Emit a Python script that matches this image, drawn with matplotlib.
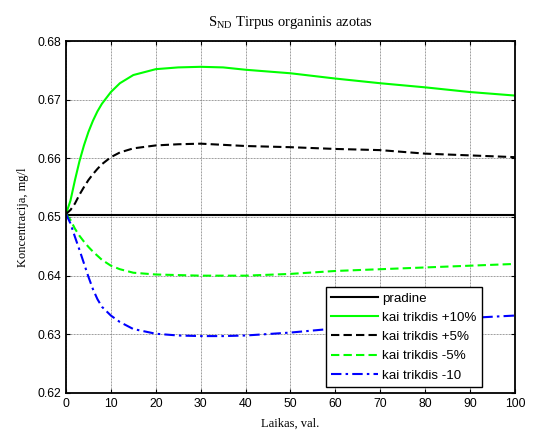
import matplotlib
matplotlib.use("Agg")
import matplotlib.pyplot as plt

plt.rcParams["mathtext.fontset"] = "custom"
plt.rcParams["mathtext.rm"] = "Liberation Serif"

# time, hours
laikas = [0, 1, 2, 3, 4, 5, 6, 7, 8, 10, 12, 15, 20, 25, 30, 35, 40, 50, 60, 70, 80, 90, 100]

pradine = [0.6503] * len(laikas)
plius10 = [0.6505, 0.6528, 0.6563, 0.6595, 0.6622, 0.6645, 0.6664, 0.6680, 0.6693, 0.6713,
           0.6728, 0.6742, 0.6752, 0.6755, 0.6756, 0.6755, 0.6751, 0.6745, 0.6736, 0.6728,
           0.6721, 0.6713, 0.6707]
plius5 = [0.6505, 0.6512, 0.6523, 0.6538, 0.6551, 0.6563, 0.6573, 0.6582, 0.6590, 0.6602,
          0.6610, 0.6617, 0.6622, 0.6624, 0.6625, 0.6623, 0.6621, 0.6619, 0.6616, 0.6614,
          0.6608, 0.6605, 0.6602]
minus5 = [0.6505, 0.6495, 0.6480, 0.6468, 0.6458, 0.6449, 0.6441, 0.6434, 0.6427, 0.6417,
          0.6411, 0.6405, 0.6402, 0.6401, 0.6400, 0.6400, 0.6400, 0.6403, 0.6408, 0.6411,
          0.6414, 0.6417, 0.6420]
minus10 = [0.6505, 0.6489, 0.6466, 0.6444, 0.6421, 0.6398, 0.6377, 0.6360, 0.6347, 0.6332,
           0.6321, 0.6309, 0.6301, 0.6298, 0.6297, 0.6297, 0.6298, 0.6303, 0.6310, 0.6318,
           0.6323, 0.6328, 0.6332]

labels = ["pradine", "kai trikdis +10%", "kai trikdis +5%", "kai trikdis -5%", "kai trikdis -10"]
xticks = list(range(0, 101, 10))
yticks = [0.62, 0.63, 0.64, 0.65, 0.66, 0.67, 0.68]

sans = "Liberation Sans"
serif = "Liberation Serif"

fig = plt.figure(figsize=(5.33, 4.33), dpi=100)
ax = fig.add_axes([0.1238, 0.0924, 0.8424, 0.8129])

ax.plot(laikas, pradine, color="black", lw=1.5, label=labels[0])
ax.plot(laikas, plius10, color="#00ff00", lw=1.5, label=labels[1])
ax.plot(laikas, plius5, color="black", lw=1.5, ls=(0, (4, 2)), label=labels[2])
ax.plot(laikas, minus5, color="#00ff00", lw=1.5, ls=(0, (4, 2)), label=labels[3])
ax.plot(laikas, minus10, color="blue", lw=1.5, ls=(0, (5, 2, 1.2, 2)), label=labels[4])

ax.set_xlim(0, 100)
ax.set_ylim(0.62, 0.68)
ax.set_xticks(xticks)
ax.set_yticks(yticks)
ax.set_yticklabels([f"{v:.2f}" for v in yticks])
ax.grid(True, color="#7a7a7a", lw=0.6, ls=(0, (1, 0.8)))
ax.tick_params(direction="in", top=True, right=True, length=3, width=0.8, labelsize=8.8)
for lab in ax.get_xticklabels() + ax.get_yticklabels():
    lab.set_fontfamily(sans)
for sp in ax.spines.values():
    sp.set_linewidth(1.3)

ax.set_title(r"S$_{\mathrm{ND}}$ Tirpus organinis azotas", fontfamily=serif, fontsize=10.5, pad=11)
ax.set_xlabel("Laikas, val.", fontfamily=serif, fontsize=9, labelpad=6)
ax.set_ylabel("Koncentracija, mg/l", fontfamily=serif, fontsize=9, labelpad=6)

leg = ax.legend(loc="lower right", bbox_to_anchor=(0.9265, 0.017), fancybox=False,
                edgecolor="black", framealpha=1, borderaxespad=0, handlelength=3.5,
                handletextpad=0.35, borderpad=0.4, labelspacing=0.52,
                prop={"family": sans, "size": 9.6})
leg.get_frame().set_linewidth(1.0)

fig.savefig("out.png", dpi=100)
plt.close(fig)
